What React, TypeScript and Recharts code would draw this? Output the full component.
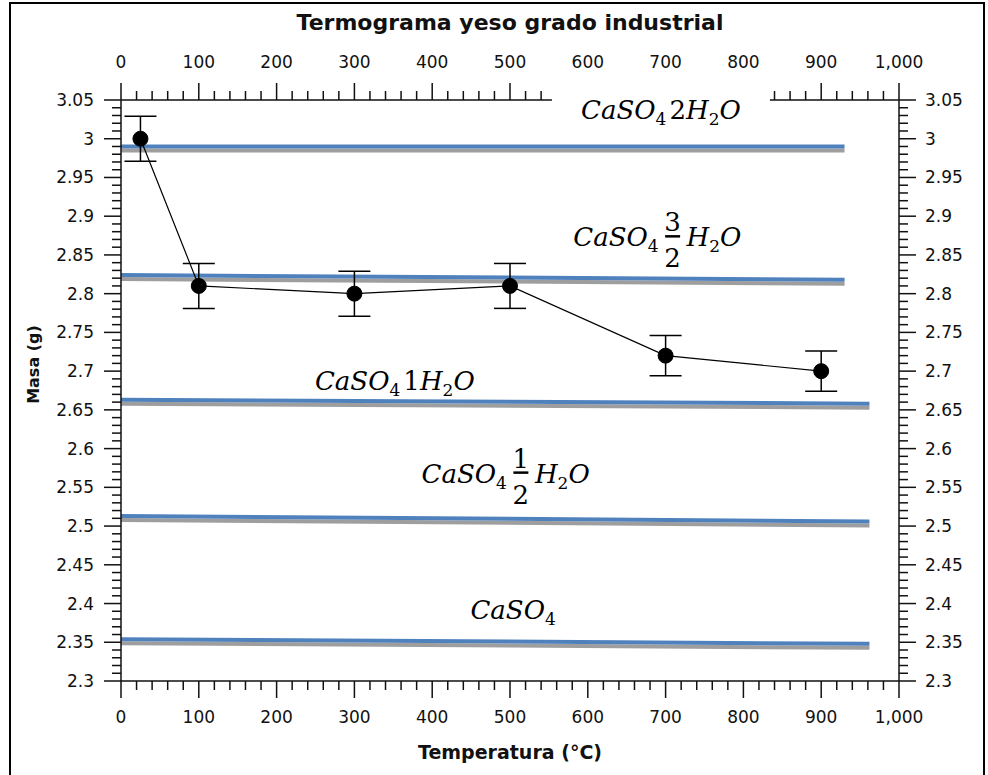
import React from 'react'
import { ComposedChart, Line, XAxis, YAxis, ErrorBar, ReferenceDot } from 'recharts'

// masa medida en cada escalón de temperatura
const temperaturas = [25, 100, 300, 500, 700, 900]
const masas = [3.0, 2.81, 2.8, 2.81, 2.72, 2.7]
const errores = [0.029, 0.029, 0.029, 0.029, 0.026, 0.026]

// niveles teóricos de cada hidrato (las líneas del original están algo inclinadas)
const fasesMasaInicio = [2.99, 2.824, 2.663, 2.513, 2.354]
const fasesMasaFin = [2.99, 2.818, 2.658, 2.506, 2.348]
const fasesTempFin = [930, 930, 962, 962, 962]

// etiquetas: coeficiente del agua ('a/b' = fracción, null = anhidro)
const fasesCoef: (string | null)[] = ['2', '3/2', '1', '1/2', null]
const fasesLabelTemp = [694, 709, 352, 514, 504]
const fasesLabelMasa = [3.025, 2.874, 2.676, 2.569, 2.38]

const xTicksMayores = [0, 100, 200, 300, 400, 500, 600, 700, 800, 900, 1000]
const yTicksMayores = [2.3, 2.35, 2.4, 2.45, 2.5, 2.55, 2.6, 2.65, 2.7, 2.75, 2.8, 2.85, 2.9, 2.95, 3, 3.05]

const xTicks = Array.from({ length: 51 }, (_, i) => i * 20)
const yTicks = Array.from({ length: 76 }, (_, i) => Math.round((2.3 + i * 0.01) * 100) / 100)

const FONT = 'DejaVu Sans, sans-serif'
const MATH = 'DejaVu Serif, serif'
const AXIS = { stroke: '#111', strokeWidth: 1.5 }
const AZUL = '#4F81BD'
const GRIS = '#9E9E9E'

const esMayorY = (v: number) => yTicksMayores.some((t) => Math.abs(t - v) < 1e-6)

function XTick(props: any) {
  const { x, y, payload, side } = props
  const v = payload.value
  const mayor = xTicksMayores.includes(v)
  const dir = side === 'top' ? -1 : 1
  const len = mayor ? 17 : 9
  return (
    <g>
      <line x1={x} x2={x} y1={y} y2={y + dir * len} stroke="#111" strokeWidth={1.5} />
      {mayor && (
        <text x={x} y={side === 'top' ? y - 32 : y + 42} textAnchor="middle" fontFamily={FONT} fontSize={17} fill="#111">
          {v.toLocaleString('en-US')}
        </text>
      )}
    </g>
  )
}

function YTick(props: any) {
  const { x, y, payload, side } = props
  const v = payload.value
  const mayor = esMayorY(v)
  const dir = side === 'left' ? -1 : 1
  const len = mayor ? 17 : 9
  return (
    <g>
      <line x1={x} x2={x + dir * len} y1={y} y2={y} stroke="#111" strokeWidth={1.5} />
      {mayor && (
        <text x={side === 'left' ? x - 27 : x + 26} y={y + 6} textAnchor={side === 'left' ? 'end' : 'start'} fontFamily={FONT} fontSize={17} fill="#111">
          {String(v)}
        </text>
      )}
    </g>
  )
}

function Formula({ cx, cy, coef, box }: { cx: number; cy: number; coef: string | null; box: boolean }) {
  const f = { fontFamily: MATH, fontSize: 26, fill: '#000' }
  const sub = { fontSize: 17, fontStyle: 'normal' as const }
  if (coef && coef.includes('/')) {
    const [num, den] = coef.split('/')
    return (
      <g>
        <text x={cx - 14} y={cy + 10} textAnchor="end" fontStyle="italic" {...f}>
          CaSO<tspan dy={6} {...sub}>4</tspan>
        </text>
        <text x={cx} y={cy - 5} textAnchor="middle" {...f}>{num}</text>
        <line x1={cx - 7.5} x2={cx + 7.5} y1={cy} y2={cy} stroke="#000" strokeWidth={2.5} />
        <text x={cx} y={cy + 31} textAnchor="middle" {...f}>{den}</text>
        <text x={cx + 14} y={cy + 10} textAnchor="start" fontStyle="italic" {...f}>
          H<tspan dy={6} {...sub}>2</tspan>
          <tspan dy={-6}>O</tspan>
        </text>
      </g>
    )
  }
  return (
    <g>
      {box && <rect x={cx - 109} y={cy - 42} width={218} height={50} fill="#fff" />}
      <text x={cx} y={cy} textAnchor="middle" fontStyle="italic" {...f}>
        CaSO<tspan dy={6} {...sub}>4</tspan>
        {coef !== null && (
          <>
            <tspan dy={-6} dx={3} fontStyle="normal">{coef}</tspan>
            <tspan>H</tspan>
            <tspan dy={6} {...sub}>2</tspan>
            <tspan dy={-6}>O</tspan>
          </>
        )}
      </text>
    </g>
  )
}

export default function App() {
  const serie = temperaturas.map((t, i) => ({ temp: t, masa: masas[i], err: errores[i] }))
  const fases = fasesMasaInicio.map((m, i) => [
    { temp: 0, masa: m },
    { temp: fasesTempFin[i], masa: fasesMasaFin[i] },
  ])

  return (
    <div style={{ position: 'absolute', left: 0, top: 0, width: 988, height: 775, background: '#fff', overflow: 'hidden' }}>
      <style>{'.fase-sombra { transform: translate(0px, 4px); }'}</style>
      <div style={{ position: 'absolute', left: 9, top: 2, width: 976, height: 800, border: '2px solid #000', boxSizing: 'border-box' }} />
      <ComposedChart width={988} height={775} margin={{ top: 0, right: 0, bottom: 0, left: 0 }} style={{ position: 'absolute', left: 0, top: 0 }}>
        <XAxis
          xAxisId="top"
          orientation="top"
          type="number"
          dataKey="temp"
          domain={[0, 1000]}
          allowDataOverflow
          ticks={xTicks}
          interval={0}
          tickSize={0}
          tickMargin={0}
          tick={<XTick side="top" />}
          height={100}
          axisLine={AXIS}
          label={{
            content: (p: any) => (
              <text x={p.viewBox.x + p.viewBox.width / 2} y={30} textAnchor="middle" fontFamily={FONT} fontWeight="bold" fontSize={22} fill="#111">
                Termograma yeso grado industrial
              </text>
            ),
          }}
        />
        <XAxis
          xAxisId="bottom"
          type="number"
          dataKey="temp"
          domain={[0, 1000]}
          allowDataOverflow
          ticks={xTicks}
          interval={0}
          tickSize={0}
          tickMargin={0}
          tick={<XTick side="bottom" />}
          height={94}
          axisLine={AXIS}
          label={{
            content: (p: any) => (
              <text x={p.viewBox.x + p.viewBox.width / 2} y={p.viewBox.y + 78} textAnchor="middle" fontFamily={FONT} fontWeight="bold" fontSize={19} fill="#111">
                Temperatura (°C)
              </text>
            ),
          }}
        />
        <YAxis
          yAxisId="left"
          type="number"
          domain={[2.3, 3.05]}
          allowDataOverflow
          ticks={yTicks}
          interval={0}
          tickSize={0}
          tickMargin={0}
          tick={<YTick side="left" />}
          width={121}
          axisLine={AXIS}
          label={{
            content: (p: any) => {
              const cx = p.viewBox.x + 33
              const cy = p.viewBox.y + p.viewBox.height / 2 - 26
              return (
                <text x={cx} y={cy} transform={`rotate(-90 ${cx} ${cy})`} textAnchor="middle" dominantBaseline="central" fontFamily={FONT} fontWeight="bold" fontSize={16} fill="#111">
                  Masa (g)
                </text>
              )
            },
          }}
        />
        <YAxis
          yAxisId="right"
          orientation="right"
          type="number"
          domain={[2.3, 3.05]}
          allowDataOverflow
          ticks={yTicks}
          interval={0}
          tickSize={0}
          tickMargin={0}
          tick={<YTick side="right" />}
          width={89}
          axisLine={AXIS}
        />

        {fases.map((d, i) => (
          <Line
            key={`sombra-${i}`}
            className="fase-sombra"
            data={d}
            xAxisId="bottom"
            yAxisId="left"
            dataKey="masa"
            stroke={GRIS}
            strokeWidth={4}
            dot={false}
            activeDot={false}
            isAnimationActive={false}
          />
        ))}
        {fases.map((d, i) => (
          <Line
            key={`fase-${i}`}
            data={d}
            xAxisId="bottom"
            yAxisId="left"
            dataKey="masa"
            stroke={AZUL}
            strokeWidth={4}
            dot={false}
            activeDot={false}
            isAnimationActive={false}
          />
        ))}

        <Line
          data={serie}
          xAxisId="bottom"
          yAxisId="left"
          dataKey="masa"
          stroke="#000"
          strokeWidth={1.2}
          dot={{ r: 7.5, fill: '#000', stroke: '#000', strokeWidth: 1 }}
          activeDot={false}
          isAnimationActive={false}
        >
          <ErrorBar dataKey="err" width={16} stroke="#000" strokeWidth={1.5} direction="y" />
        </Line>

        {fasesCoef.map((c, i) => (
          <ReferenceDot
            key={`etiqueta-${i}`}
            xAxisId="bottom"
            yAxisId="left"
            x={fasesLabelTemp[i]}
            y={fasesLabelMasa[i]}
            r={0}
            ifOverflow="visible"
            {...({ zIndex: 2000 } as any)}
            shape={(p: any) => <Formula cx={p.cx} cy={p.cy} coef={c} box={i === 0} />}
          />
        ))}
      </ComposedChart>
    </div>
  )
}
